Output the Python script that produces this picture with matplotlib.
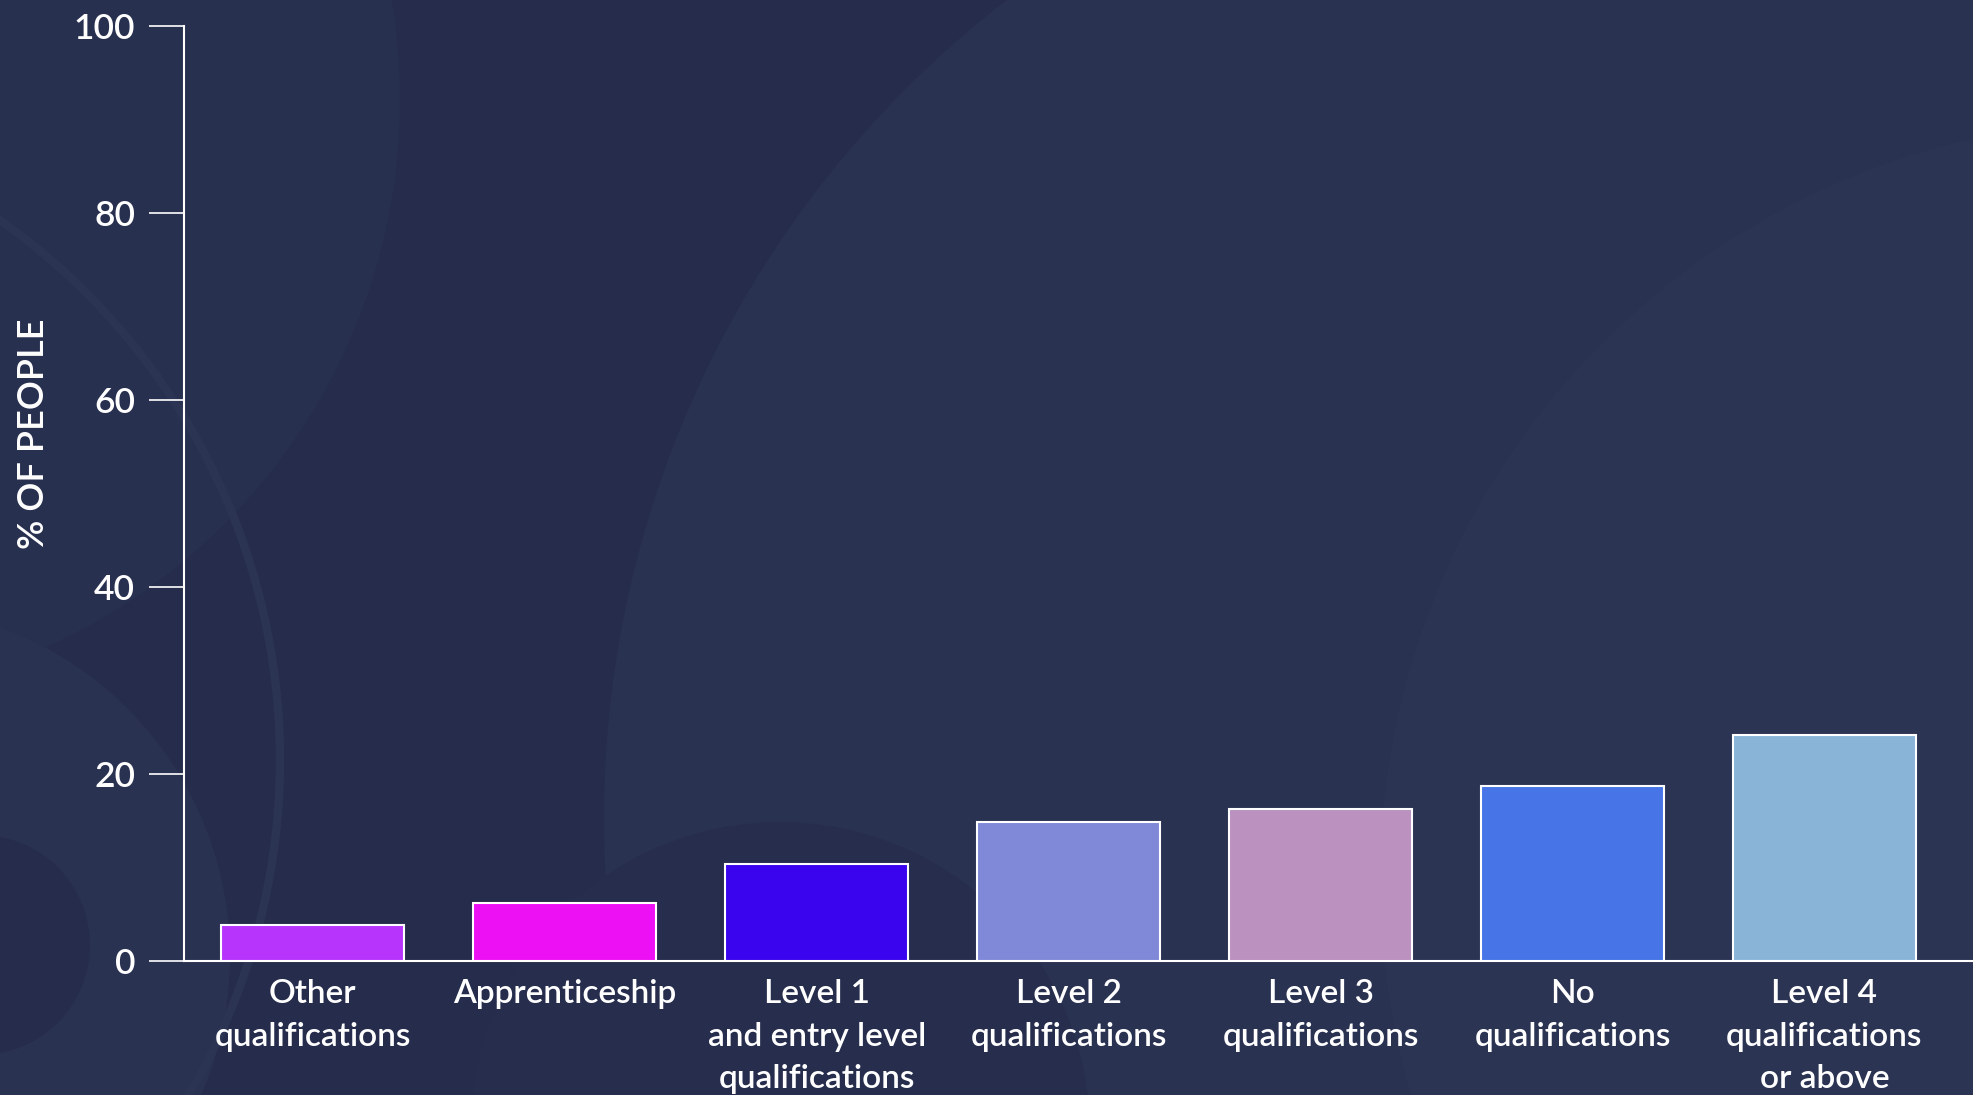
import matplotlib
matplotlib.use("Agg")
import matplotlib.pyplot as plt
from matplotlib.patches import Circle

categories = ["Other\nqualifications", "Apprenticeship", "Level 1\nand entry level\nqualifications",
              "Level 2\nqualifications", "Level 3\nqualifications", "No\nqualifications",
              "Level 4\nqualifications\nor above"]
values = [3.9, 6.2, 10.4, 14.9, 16.3, 18.7, 24.2]
colors = ["#b734fd", "#ee10f4", "#3a05ee", "#7f89d8", "#bb91bf", "#4775e8", "#89b4d8"]
yticks = [0, 20, 40, 60, 80, 100]

BG = "#252c4c"
plt.rcParams['font.family'] = ['Lato', 'DejaVu Sans']

W, H = 19.73, 10.95
fig = plt.figure(figsize=(W, H), dpi=100, facecolor=BG)

# decorative background circles (inches, origin bottom-left)
def circ(xpx, ypx, rpx, **kw):
    c = Circle((xpx / 100, (1095 - ypx) / 100), rpx / 100, transform=fig.dpi_scale_trans, **kw)
    fig.add_artist(c)
    return c

circ(1636, 818, 1032, facecolor="#2a3252", edgecolor="none", zorder=-10)
circ(2140, 880, 760, facecolor="#2c3454", edgecolor="none", zorder=-9)
circ(780, 1132, 310, facecolor="#262d4d", edgecolor="none", zorder=-8)
circ(-120, 956, 350, facecolor="#2a3252", edgecolor="none", zorder=-8)
circ(-20, 945, 110, facecolor="#252c4c", edgecolor="none", zorder=-7)
circ(-380, 760, 660, facecolor="none", edgecolor="#2c3454", linewidth=6, zorder=-7)
circ(-200, 100, 600, facecolor="#283050", edgecolor="none", zorder=-11)

ax = fig.add_axes([183.7 / 1973, 134 / 1095, 1 - 183.7 / 1973, (961 - 26.4) / 1095])
ax.set_facecolor("none")
x = list(range(len(values)))
ax.bar(x, values, width=0.725, color=colors, edgecolor="white", linewidth=1.5, zorder=3)

ax.set_ylim(0, 100)
ax.set_xlim(-0.5125, 6.59)
ax.set_yticks(yticks)
ax.set_yticklabels([str(t) for t in yticks])
ax.set_xticks(x)
ax.set_xticklabels(categories, linespacing=1.52)

for s in ["top", "right"]:
    ax.spines[s].set_visible(False)
for s in ["left", "bottom"]:
    ax.spines[s].set_color("white")
    ax.spines[s].set_linewidth(1.5)

ax.tick_params(axis="y", colors="white", length=25, width=1.2, pad=10, labelsize=25.5)
ax.tick_params(axis="x", colors="white", length=0, pad=13, labelsize=24)
for lab in ax.get_yticklabels() + ax.get_xticklabels():
    lab.set_fontweight("semibold")
    lab.set_color("white")

fig.text(34 / 1973, 1 - 434 / 1095, "% OF PEOPLE", rotation=90, color="white",
         fontsize=26, fontweight="semibold", ha="center", va="center")

fig.savefig("out.png", dpi=100, facecolor=BG)
